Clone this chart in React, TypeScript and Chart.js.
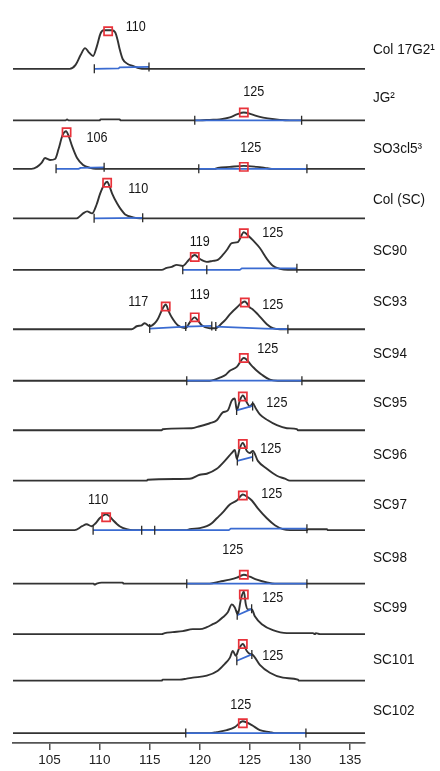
import React, { useEffect, useRef } from "react";
import { Chart, registerables } from "chart.js";

Chart.register(...registerables);

// ---------- axis ----------
const X_MIN = 101.35;
const X_MAX = 136.5;
const xTickValues = [105, 110, 115, 120, 125, 130, 135];

// ---------- sample names (right-hand labels) ----------
const sampleNames = [
  "Col 17G2¹", "JG²", "SO3cl5³", "Col (SC)", "SC90", "SC93", "SC94",
  "SC95", "SC96", "SC97", "SC98", "SC99", "SC101", "SC102",
];

// ---------- traces: [size, signal] ----------
const col17g2 = [[101.35,0],[107.0,0],[107.6,4],[108.1,14],[108.55,21],[108.9,17],[109.35,13],[109.7,22],[110.1,36],[110.4,39],[111.2,39],[111.55,37],[111.8,29],[112.0,20],[112.3,10],[112.8,5],[113.3,3],[114.0,0.5],[114.5,0],[136.5,0]];
const jg2 = [[101.35,0],[106.6,0],[106.75,1],[106.9,0],[110.0,0],[110.1,1],[112.0,1],[112.1,0],[120.0,0],[121.0,0.5],[122.0,1],[123.0,3],[123.7,6],[124.4,8],[125.2,6],[126.0,3.5],[126.8,2],[128.0,0.5],[129.0,0],[136.5,0]];
const so3cl5 = [[101.35,0],[103.2,0],[103.75,2],[104.2,6],[104.55,11],[104.8,10],[105.05,9],[105.55,10],[105.9,20],[106.3,34],[106.65,38],[106.95,32],[107.25,23],[107.75,11],[108.35,4],[109.05,1],[109.6,0],[121.5,0],[121.8,1],[123.0,2],[124.4,3],[125.7,2],[126.5,1],[127.2,0],[136.5,0]];
const colSC = [[101.35,0],[107.7,0],[108.35,5],[108.75,7],[109.25,5],[109.7,14],[110.05,25],[110.45,34],[110.75,37],[111.0,32],[111.25,25],[111.75,15],[112.2,8],[112.55,4],[113.35,1],[114.0,0],[136.5,0]];
const sc90 = [[101.35,0],[116.2,0],[116.7,2],[117.2,3],[117.7,5],[118.3,4],[118.9,10],[119.5,15],[120.0,11],[120.7,8],[121.3,9],[121.8,10],[122.3,15],[122.7,20],[123.2,27],[123.8,28],[124.4,38],[124.9,34],[125.3,30],[126.0,22],[126.7,11],[127.3,4],[128.0,1],[128.8,0],[136.5,0]];
const sc93 = [[101.35,0],[113.2,0],[113.7,3],[114.2,4],[114.5,6],[115.0,3],[115.5,6],[115.8,10],[116.3,21],[116.6,25],[116.9,18],[117.2,12],[117.8,4],[118.6,1],[119.0,7],[119.5,12],[119.8,9],[120.2,4],[121.0,1],[121.6,1],[122.2,6],[122.6,10],[123.0,15],[123.7,22],[124.5,28],[125.0,22],[125.3,20],[125.8,15],[126.7,5],[127.3,1],[128.0,0],[136.5,0]];
const sc94 = [[101.35,0],[121.0,0],[121.5,1],[122.0,3],[122.6,6],[123.0,10],[123.7,14],[124.4,23],[125.2,15],[125.7,10],[126.2,6],[127.0,1],[127.8,0],[136.5,0]];
const sc95 = [[101.35,0],[116.2,0],[116.3,1],[119.2,2],[120.0,4],[120.7,6],[121.0,7],[121.7,10],[122.3,18],[122.8,20],[123.2,30],[123.5,32],[123.7,20],[124.0,30],[124.3,35],[124.7,28],[125.0,24],[125.3,27],[125.6,22],[126.0,16],[126.8,10],[127.7,5],[128.7,2],[129.7,1],[129.8,0],[136.5,0]];
const sc96 = [[101.35,0],[114.7,0],[114.8,1],[119.0,2],[120.0,6],[120.7,7],[121.7,12],[122.5,20],[123.2,28],[123.5,31],[123.7,22],[124.0,33],[124.3,38],[124.7,30],[125.0,28],[125.3,30],[125.8,20],[126.7,12],[127.7,5],[128.5,2],[129.0,0],[136.5,0]];
const sc97 = [[101.35,0],[107.5,0],[108.25,4],[108.7,6],[109.2,4],[109.6,7],[110.0,12],[110.65,16],[111.0,14],[111.35,10],[112.0,4],[112.7,1],[113.35,0],[118.7,0],[119.0,1],[120.0,2],[120.7,4],[121.2,7],[121.7,12],[122.3,18],[123.0,26],[123.7,30],[124.3,36],[124.7,34],[125.2,30],[125.8,22],[126.7,12],[127.5,5],[128.3,1],[129.0,0],[130.7,0],[130.8,1],[132.7,1],[132.8,0],[136.5,0]];
const sc98 = [[101.35,0],[109.4,0],[109.5,-1],[109.7,0],[110.2,1],[112.3,1],[112.4,0],[121.0,0],[122.0,2],[123.0,4],[123.7,6],[124.4,9],[125.0,7],[125.7,4],[126.8,1],[127.5,0],[136.5,0]];
const sc99 = [[101.35,0],[116.2,0],[116.5,1],[117.3,2],[118.3,3],[119.3,5],[120.0,5],[120.7,7],[121.3,10],[121.7,12],[122.3,17],[122.8,22],[123.2,30],[123.5,27],[123.8,20],[124.1,35],[124.4,43],[124.6,30],[124.8,25],[125.2,25],[125.5,18],[126.2,10],[127.3,4],[128.7,1],[131.3,1],[131.5,0],[131.6,1],[132.0,0],[136.5,0]];
const sc101 = [[101.35,0],[116.2,0],[116.3,1],[118.0,1],[118.7,2],[119.3,3],[120.7,5],[121.8,10],[122.5,17],[123.0,23],[123.3,30],[123.6,25],[123.9,32],[124.3,37],[124.7,30],[125.0,27],[125.3,26],[126.0,16],[127.0,8],[128.3,3],[129.8,1],[129.9,0],[136.5,0]];
const sc102 = [[101.35,0],[121.0,0],[121.7,1],[122.7,3],[123.5,6],[124.3,12],[125.2,8],[126.0,3],[127.0,1],[127.5,0],[136.5,0]];

const traces = [col17g2, jg2, so3cl5, colSC, sc90, sc93, sc94, sc95, sc96, sc97, sc98, sc99, sc101, sc102];

// ---------- called peaks (red squares): [size, signal] ----------
const peakMarks = [
  [[110.85, 38]],
  [[124.4, 8]],
  [[106.7, 37], [124.4, 2]],
  [[110.75, 36]],
  [[119.5, 13], [124.4, 37]],
  [[116.6, 23], [119.5, 12], [124.5, 27]],
  [[124.4, 23]],
  [[124.3, 34]],
  [[124.3, 37]],
  [[110.65, 13], [124.3, 35]],
  [[124.4, 9]],
  [[124.4, 40]],
  [[124.3, 37]],
  [[124.3, 10]],
];

// ---------- peak size labels: [text, size, signal] ----------
const peakLabels = [
  [["110", 113.6, 42]],
  [["125", 125.4, 28]],
  [["106", 109.75, 31], ["125", 125.1, 21]],
  [["110", 113.85, 30]],
  [["119", 120.0, 28], ["125", 127.3, 37]],
  [["117", 113.85, 27], ["119", 120.0, 34], ["125", 127.3, 24]],
  [["125", 126.8, 32]],
  [["125", 127.7, 27]],
  [["125", 127.1, 32]],
  [["110", 109.85, 30], ["125", 127.2, 36]],
  [["125", 123.3, 34]],
  [["125", 127.3, 36]],
  [["125", 127.3, 25]],
  [["125", 124.1, 28]],
];

// ---------- integration baselines (blue): list of segments of [size, signal] ----------
const blueLines = [
  [[[109.47, 0], [111.9, 0.5], [112.0, 1.5], [114.93, 2]]],
  [[[119.5, 0], [130.17, 0]]],
  [[[105.65, 0], [107.9, 0], [108.1, 1], [110.45, 1.5]], [[119.9, 0], [130.7, 0]]],
  [[[109.45, 0], [114.3, 0.5]]],
  [[[118.3, 0], [124.0, 0], [124.2, 1.5], [129.7, 1.5]]],
  [[[115.0, 0.7], [118.6, 2.7], [121.2, 3.3]], [[121.6, 2.7], [126.5, 0.7], [128.8, 0]]],
  [[[118.7, 0], [130.2, 0]]],
  [[[123.68, 20], [125.28, 24.5]]],
  [[[123.75, 20], [125.28, 24]]],
  [[[109.35, 0], [122.9, 0], [123.1, 1.5], [130.7, 1.5]]],
  [[[118.7, 0], [130.7, 0]]],
  [[[123.74, 19], [125.18, 25.5]]],
  [[[123.7, 20], [125.2, 26.5]]],
  [[[118.6, 0], [130.6, 0]]],
];

// ---------- peak window cut marks: [size, signal] ----------
const cutMarks = [
  [[109.47, 0], [114.93, 2]],
  [[119.5, 0], [130.17, 0]],
  [[105.65, 0], [110.45, 1.5], [119.9, 0], [130.7, 0]],
  [[109.45, 0], [114.3, 0.5]],
  [[118.3, 0], [120.7, 0], [129.7, 1.5]],
  [[115.0, 0.7], [118.6, 2.7], [121.2, 3.3], [121.6, 2.7], [128.8, 0]],
  [[118.7, 0], [130.2, 0]],
  [[123.68, 20], [125.28, 24.5]],
  [[123.75, 20], [125.28, 24]],
  [[109.35, 0], [114.2, 0], [115.5, 0], [130.7, 1.5]],
  [[118.7, 0], [130.7, 0]],
  [[123.74, 19], [125.18, 25.5]],
  [[123.7, 20], [125.2, 26.5]],
  [[118.6, 0], [130.6, 0]],
];

// ---------- layout (pixels) ----------
const W = 440;
const H = 771;
const AXIS_PX = 743;
const rowBaseline = [62, 114, 163, 213, 265, 325, 377, 427, 478, 528, 582, 633, 680, 733];
const nameRise = [19, 22, 20, 18, 19, 27, 27, 27, 26, 25, 26, 26, 21, 22];
const FONT = '"Liberation Sans", Arial, Helvetica, sans-serif';

const toY = (row: number, h: number) => AXIS_PX - rowBaseline[row] + h;
const pts = (row: number, arr: number[][]) => arr.map(([x, h]) => ({ x, y: toY(row, h) }));

const textPlugin = {
  id: "textLabels",
  afterDatasetsDraw(chart: any) {
    const { ctx, scales, chartArea } = chart;
    const xs = scales.x;
    const ys = scales.y;
    ctx.save();
    ctx.font = `14px ${FONT}`;
    ctx.fillStyle = "#151515";
    ctx.textBaseline = "middle";
    ctx.textAlign = "center";
    peakLabels.forEach((list, i) => {
      list.forEach(([t, vx, h]) => {
        ctx.save();
        ctx.translate(xs.getPixelForValue(vx as number), ys.getPixelForValue(toY(i, h as number)));
        ctx.scale(0.9, 1);
        ctx.fillText(String(t), 0, 0);
        ctx.restore();
      });
    });
    ctx.textAlign = "left";
    sampleNames.forEach((n, i) => {
      ctx.save();
      ctx.translate(chartArea.right + 8, ys.getPixelForValue(toY(i, nameRise[i])));
      ctx.scale(0.97, 1);
      ctx.fillText(n, 0, 0);
      ctx.restore();
    });
    ctx.restore();
  },
};

export default function App() {
  const ref = useRef<HTMLCanvasElement | null>(null);

  useEffect(() => {
    if (!ref.current) return;
    const datasets: any[] = [];

    peakMarks.forEach((m, i) => {
      datasets.push({
        type: "line",
        data: pts(i, m),
        showLine: false,
        pointStyle: "rect",
        pointRadius: 5.8,
        pointBorderColor: "#e8323a",
        pointBackgroundColor: "rgba(255,255,255,0)",
        pointBorderWidth: 1.7,
        order: 0,
      });
    });
    cutMarks.forEach((m, i) => {
      datasets.push({
        type: "line",
        data: pts(i, m),
        showLine: false,
        pointStyle: "line",
        rotation: 90,
        pointRadius: 4.5,
        pointBorderColor: "#2a2a2a",
        pointBorderWidth: 1.3,
        order: 1,
      });
    });
    blueLines.forEach((segs, i) => {
      segs.forEach((seg) => {
        datasets.push({
          type: "line",
          data: pts(i, seg),
          borderColor: "#3a6bd1",
          borderWidth: 1.7,
          pointRadius: 0,
          tension: 0,
          order: 2,
        });
      });
    });
    traces.forEach((t, i) => {
      datasets.push({
        type: "line",
        data: pts(i, t),
        borderColor: "#333",
        borderWidth: 1.9,
        pointRadius: 0,
        cubicInterpolationMode: "monotone",
        order: 3,
      });
    });

    const chart = new Chart(ref.current, {
      type: "line",
      data: { datasets },
      options: {
        animation: false,
        responsive: false,
        maintainAspectRatio: false,
        layout: { padding: { left: 13, right: 75, top: 0, bottom: 0 } },
        plugins: { legend: { display: false }, tooltip: { enabled: false } },
        scales: {
          x: {
            type: "linear",
            min: X_MIN,
            max: X_MAX,
            afterBuildTicks: (s: any) => {
              s.ticks = xTickValues.map((v) => ({ value: v }));
            },
            afterFit: (s: any) => {
              s.height = H - AXIS_PX;
            },
            grid: {
              display: true,
              drawOnChartArea: false,
              drawTicks: true,
              tickLength: 7,
              color: "#555",
              lineWidth: 1.5,
            },
            border: { display: true, color: "#555", width: 1.8 },
            ticks: {
              color: "#222",
              font: { size: 13.5, family: FONT },
              padding: 2,
              maxRotation: 0,
              autoSkip: false,
            },
          },
          y: { type: "linear", display: false, min: 0, max: AXIS_PX },
        },
      },
      plugins: [textPlugin],
    } as any);

    return () => chart.destroy();
  }, []);

  return (
    <div style={{ position: "absolute", left: 0, top: 0, width: W, height: H, background: "#fff" }}>
      <canvas ref={ref} width={W} height={H} style={{ display: "block" }} />
    </div>
  );
}
